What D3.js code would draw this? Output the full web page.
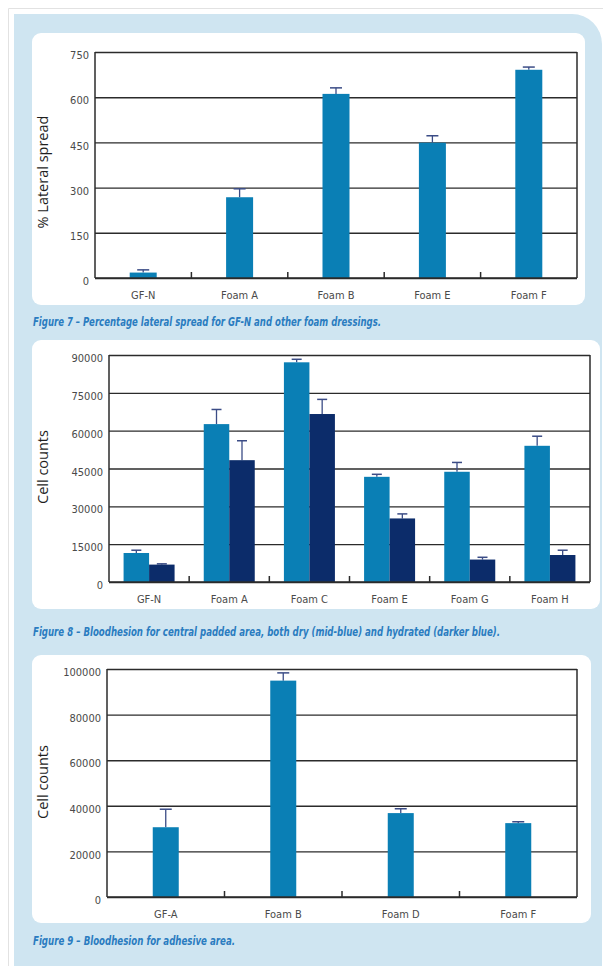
<!DOCTYPE html>
<html>
<head>
<meta charset="utf-8">
<script src="https://cdn.jsdelivr.net/npm/d3@7"></script>
<style>
  html, body { margin: 0; padding: 0; background: #fff; }
  svg { display: block; }
  .tick-label { font-family: "Liberation Sans Narrow", "DejaVu Sans Condensed", sans-serif; font-size: 11px; fill: #4a4a4a; }
  .axis-title { font-family: "Open Sans", "Noto Sans", sans-serif; font-size: 14.5px; fill: #1e1e1e; }
  .caption { font-family: "Liberation Sans Narrow", "DejaVu Sans Condensed", sans-serif; font-size: 11.5px; font-weight: bold; font-style: italic; fill: #2a7cc0; }
</style>
</head>
<body>
<script>
// Figure 7 - lateral spread
const fig7Categories = ['GF-N', 'Foam A', 'Foam B', 'Foam E', 'Foam F'];
const fig7Values = [18, 268, 611, 449, 691];
const fig7Errors = [9, 28, 20, 23, 9];
const fig7Ticks = [0, 150, 300, 450, 600, 750];

// Figure 8 - central padded area, dry vs hydrated
const fig8Categories = ['GF-N', 'Foam A', 'Foam C', 'Foam E', 'Foam G', 'Foam H'];
const fig8Dry = [11500, 62600, 87100, 41700, 43700, 54000];
const fig8DryErrors = [1100, 5800, 1200, 1000, 3700, 3800];
const fig8Hydrated = [6900, 48300, 66600, 25200, 8900, 10700];
const fig8HydratedErrors = [300, 7700, 5800, 1800, 900, 1900];
const fig8Ticks = [0, 15000, 30000, 45000, 60000, 75000, 90000];

// Figure 9 - adhesive area
const fig9Categories = ['GF-A', 'Foam B', 'Foam D', 'Foam F'];
const fig9Values = [30600, 94900, 36800, 32400];
const fig9Errors = [7900, 3400, 1900, 600];
const fig9Ticks = [0, 20000, 40000, 60000, 80000, 100000];

const W = 603, H = 966;
const midBlue = '#0a7fb5';
const darkBlue = '#0c2c6a';
const errColor = '#3b4c86';
const lineColor = '#2b2b2b';

const svg = d3.select('body').append('svg')
    .attr('width', W)
    .attr('height', H);

// page frame + light blue panel
svg.append('path')
    .attr('d', 'M8.5,' + H + ' V8.5 H' + W)
    .attr('fill', 'none')
    .attr('stroke', '#e2e2e2');
svg.append('path')
    .attr('d', `M14,${H} V14 H572 A30,30 0 0 1 602,44 V${H} Z`)
    .attr('fill', '#cfe5f1');

function drawChart(opts) {
    const {box, plot, categories, series, ticks, yTitle, caption, barWidth, capWidth} = opts;

    // white card
    svg.append('rect')
        .attr('x', box.x).attr('y', box.y)
        .attr('width', box.w).attr('height', box.h)
        .attr('rx', 9)
        .attr('fill', '#fff');

    const g = svg.append('g').attr('transform', `translate(${plot.x},${plot.y})`);
    const w = plot.w, h = plot.h;

    const x = d3.scaleBand().domain(categories).range([0, w]).padding(0);
    const y = d3.scaleLinear().domain([0, d3.max(ticks)]).range([h, 0]);
    const xs = d3.scaleBand()
        .domain(series.map((s) => s.name))
        .range([-barWidth * series.length / 2, barWidth * series.length / 2]);

    // gridlines + y labels
    const yAxis = g.append('g')
        .call(d3.axisLeft(y).tickValues(ticks).tickSize(-w).tickPadding(6).tickFormat(d3.format('d')));
    yAxis.select('.domain').remove();
    yAxis.selectAll('line').attr('stroke', lineColor).attr('stroke-width', 1.4);
    yAxis.selectAll('text')
        .attr('class', 'tick-label')
        .attr('fill', null)
        .attr('font-family', null).attr('font-size', null)
        .attr('dy', '0.6em');

    // bars + error bars
    series.forEach((s) => {
        const grp = g.append('g');
        categories.forEach((c, i) => {
            const cx = x(c) + x.bandwidth() / 2 + xs(s.name);
            const v = s.values[i];
            const e = s.errors[i];
            grp.append('line')
                .attr('x1', cx + barWidth / 2).attr('x2', cx + barWidth / 2)
                .attr('y1', y(v)).attr('y2', y(v + e))
                .attr('stroke', errColor).attr('stroke-width', 1.3);
            grp.append('line')
                .attr('x1', cx + barWidth / 2 - capWidth / 2).attr('x2', cx + barWidth / 2 + capWidth / 2)
                .attr('y1', y(v + e)).attr('y2', y(v + e))
                .attr('stroke', errColor).attr('stroke-width', 1.5);
            grp.append('rect')
                .attr('x', cx).attr('y', y(v))
                .attr('width', barWidth).attr('height', h - y(v))
                .attr('fill', s.color);
        });
    });

    // frame: left, right, bottom
    g.append('line').attr('x1', 0).attr('x2', 0).attr('y1', 0).attr('y2', h)
        .attr('stroke', lineColor).attr('stroke-width', 1.5);
    g.append('line').attr('x1', w).attr('x2', w).attr('y1', 0).attr('y2', h)
        .attr('stroke', lineColor).attr('stroke-width', 1.5);
    g.append('line').attr('x1', 0).attr('x2', w).attr('y1', h).attr('y2', h)
        .attr('stroke', lineColor).attr('stroke-width', 1.5);

    // little ticks between categories
    categories.slice(1).forEach((c) => {
        g.append('line')
            .attr('x1', x(c)).attr('x2', x(c))
            .attr('y1', h).attr('y2', h - 6)
            .attr('stroke', lineColor).attr('stroke-width', 1.5);
    });

    // category labels
    g.selectAll('.xlab')
        .data(categories)
        .enter()
        .append('text')
        .attr('class', 'tick-label')
        .attr('x', (d) => x(d) + x.bandwidth() / 2)
        .attr('y', h + 21)
        .attr('text-anchor', 'middle')
        .text((d) => d);

    // y title
    svg.append('text')
        .attr('class', 'axis-title')
        .attr('transform', `translate(${yTitle.x},${yTitle.y}) rotate(-90)`)
        .attr('text-anchor', 'middle')
        .text(yTitle.text);

    // caption
    svg.append('text')
        .attr('class', 'caption')
        .attr('x', caption.x).attr('y', caption.y)
        .attr('textLength', caption.len)
        .attr('lengthAdjust', 'spacingAndGlyphs')
        .text(caption.text);
}

drawChart({
    box: {x: 32, y: 33, w: 553, h: 272},
    plot: {x: 95, y: 52, w: 482, h: 226},
    categories: fig7Categories,
    series: [{name: 'value', values: fig7Values, errors: fig7Errors, color: midBlue}],
    ticks: fig7Ticks,
    yTitle: {x: 48, y: 172, text: '% Lateral spread'},
    caption: {x: 33, y: 326, len: 348, text: 'Figure 7 \u2013 Percentage lateral spread for GF-N and other foam dressings.'},
    barWidth: 27,
    capWidth: 12
});

drawChart({
    box: {x: 32, y: 340, w: 568, h: 269},
    plot: {x: 109, y: 355, w: 481, h: 227},
    categories: fig8Categories,
    series: [
        {name: 'dry', values: fig8Dry, errors: fig8DryErrors, color: midBlue},
        {name: 'hydrated', values: fig8Hydrated, errors: fig8HydratedErrors, color: darkBlue}
    ],
    ticks: fig8Ticks,
    yTitle: {x: 48, y: 467, text: 'Cell counts'},
    caption: {x: 33, y: 636, len: 467, text: 'Figure 8 \u2013 Bloodhesion for central padded area, both dry (mid-blue) and hydrated (darker blue).'},
    barWidth: 25.5,
    capWidth: 10
});

drawChart({
    box: {x: 32, y: 655, w: 559, h: 268},
    plot: {x: 107, y: 669, w: 470, h: 228},
    categories: fig9Categories,
    series: [{name: 'value', values: fig9Values, errors: fig9Errors, color: midBlue}],
    ticks: fig9Ticks,
    yTitle: {x: 48, y: 782, text: 'Cell counts'},
    caption: {x: 33, y: 945, len: 202, text: 'Figure 9 \u2013 Bloodhesion for adhesive area.'},
    barWidth: 26,
    capWidth: 12
});
</script>
</body>
</html>
